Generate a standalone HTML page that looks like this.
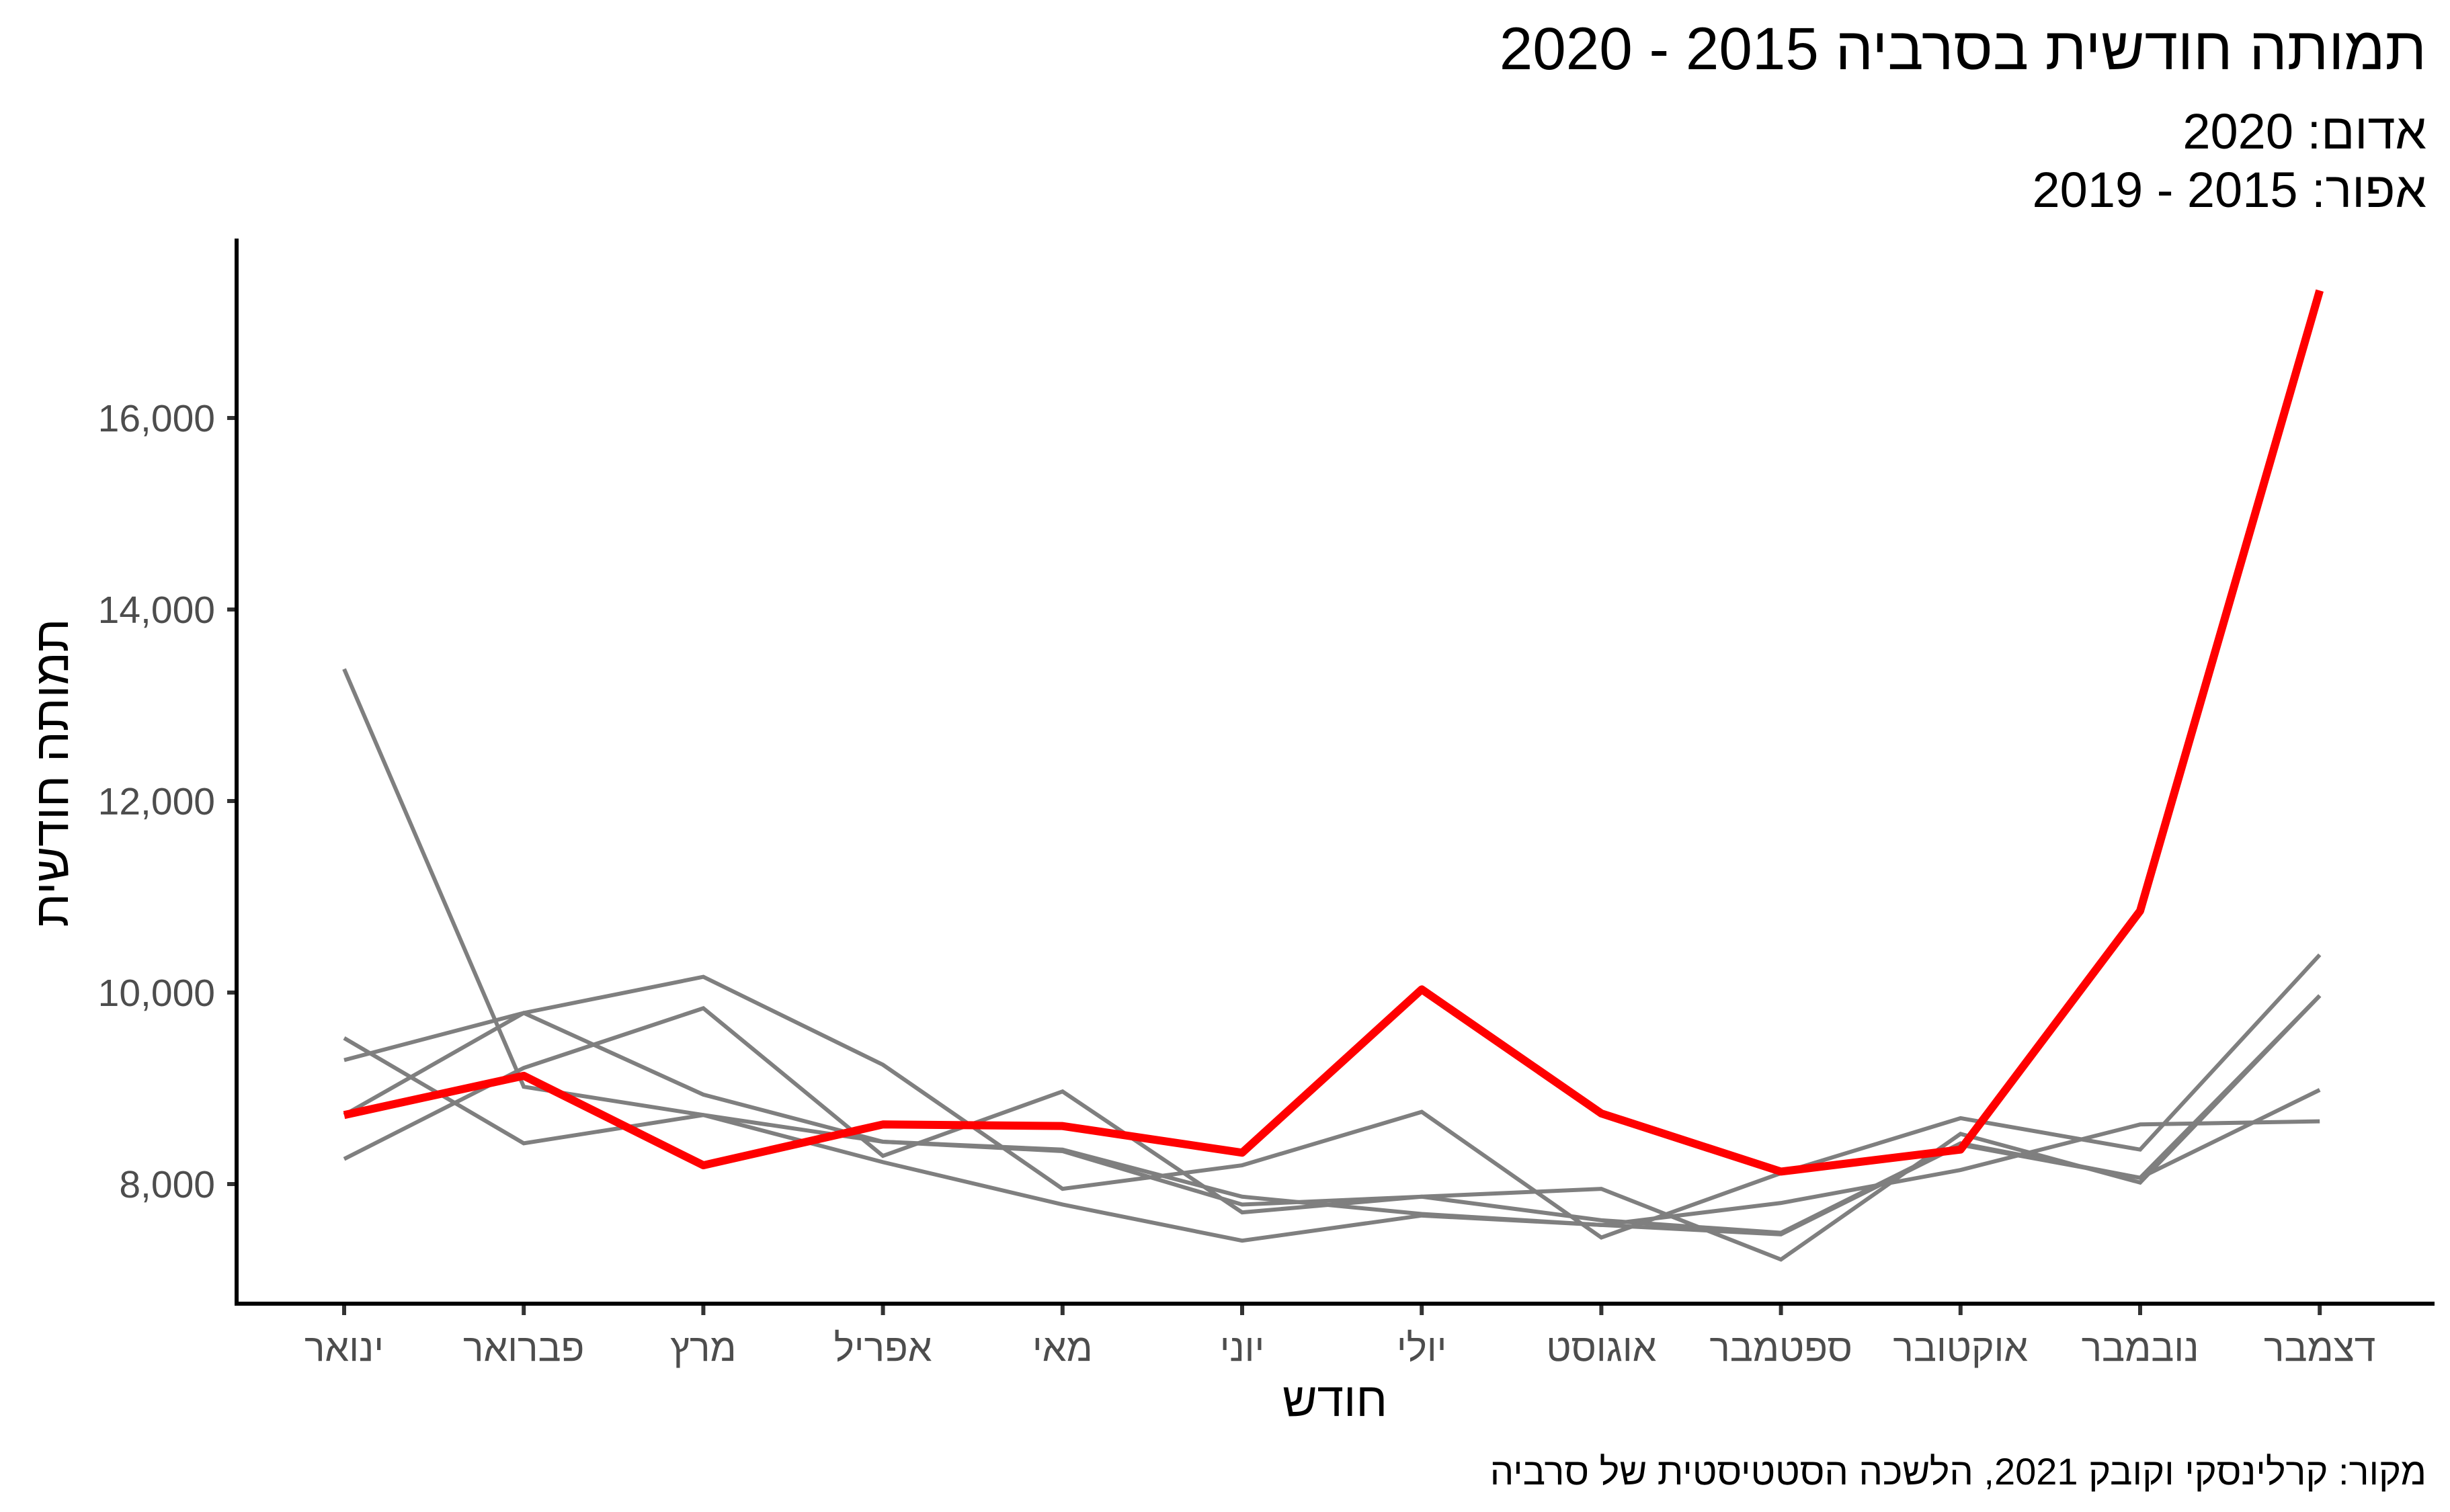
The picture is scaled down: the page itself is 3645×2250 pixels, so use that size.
<!DOCTYPE html>
<html><head><meta charset="utf-8"><style>
html,body{margin:0;padding:0;background:#fff;}
body{width:3645px;height:2250px;position:relative;overflow:hidden;font-family:"Liberation Sans","Noto Sans CJK JP",sans-serif;}
.t{position:absolute;white-space:nowrap;direction:rtl;line-height:1;}
</style></head><body>
<svg width="3645" height="2250" style="position:absolute;left:0;top:0" xmlns="http://www.w3.org/2000/svg">
<g stroke="#333" stroke-width="6">
<line x1="338" y1="622" x2="352" y2="622"/><line x1="338" y1="907" x2="352" y2="907"/>
<line x1="338" y1="1192" x2="352" y2="1192"/><line x1="338" y1="1477" x2="352" y2="1477"/>
<line x1="338" y1="1762" x2="352" y2="1762"/>
</g>
<g stroke="#333" stroke-width="6" id="xt"></g>
<g fill="none" stroke="#7f7f7f" stroke-width="6" id="gray"></g>
<polyline id="red" fill="none" stroke="#ff0000" stroke-width="12" stroke-linejoin="round"/>
<line x1="352" y1="355" x2="352" y2="1942" stroke="#000" stroke-width="6"/>
<line x1="349" y1="1940" x2="3622" y2="1940" stroke="#000" stroke-width="6"/>
<g font-family="Liberation Sans, sans-serif" font-size="57" fill="#4d4d4d" text-anchor="end">
<text x="320" y="642">16,000</text><text x="320" y="927">14,000</text>
<text x="320" y="1212">12,000</text><text x="320" y="1497">10,000</text>
<text x="320" y="1782">8,000</text>
</g>
</svg>
<div id="xl"></div>
<div class="t" style="right:35px;top:28px;font-size:89px;color:#000;">תמותה חודשית בסרביה 2015 - 2020</div>
<div class="t" style="right:35px;top:152px;font-size:74px;line-height:87px;color:#000;">אדום: 2020<br>אפור: 2015 - 2019</div>
<div class="t" style="left:1786px;width:400px;text-align:center;top:2048px;font-size:71px;color:#000;">חודש</div>
<div class="t" style="left:77px;top:1150px;font-size:72px;color:#000;transform:translate(-50%,-50%) rotate(-90deg);">תמותה חודשית</div>
<div class="t" style="right:35px;top:2162px;font-size:56px;color:#000;">מקור: קרלינסקי וקובק 2021, הלשכה הסטטיסטית של סרביה</div>
<script>
var x0=512,dx=267.2,months=["ינואר","פברואר","מרץ","אפריל","מאי","יוני","יולי","אוגוסט","ספטמבר","אוקטובר","נובמבר","דצמבר"];
function X(i){return x0+i*dx;}
function Yd(d){return d*2.337;}
var ns="http://www.w3.org/2000/svg",xt=document.getElementById('xt'),xl=document.getElementById('xl');
months.forEach(function(m,i){
 var l=document.createElementNS(ns,'line');l.setAttribute('x1',X(i));l.setAttribute('x2',X(i));l.setAttribute('y1',1943);l.setAttribute('y2',1957);xt.appendChild(l);
 var d=document.createElement('div');d.className='t';d.style.cssText='left:'+(X(i)-200)+'px;width:400px;text-align:center;top:1978px;font-size:57px;color:#4d4d4d;';d.textContent=m;xl.appendChild(d);
});
var gray=[[426,692,710,727,733,767,762,777,785,728,750,634],
[661,728,710,740,767,790,774,780,766,745,716,714],
[675,645,622,678,757,742,708,788,747,712,732,608],
[738,680,642,736,695,772,762,757,802,722,753,634],
[710,645,697,727,732,762,773,780,786,729,750,694]];
var g=document.getElementById('gray');
gray.forEach(function(s){var p=document.createElementNS(ns,'polyline');p.setAttribute('points',s.map(function(v,i){return X(i)+','+Yd(v)}).join(' '));g.appendChild(p);});
var red=[710,685,742,716,717,734,630,709,746,732,580,185];
document.getElementById('red').setAttribute('points',red.map(function(v,i){return X(i)+','+Yd(v)}).join(' '));
</script>
</body></html>
